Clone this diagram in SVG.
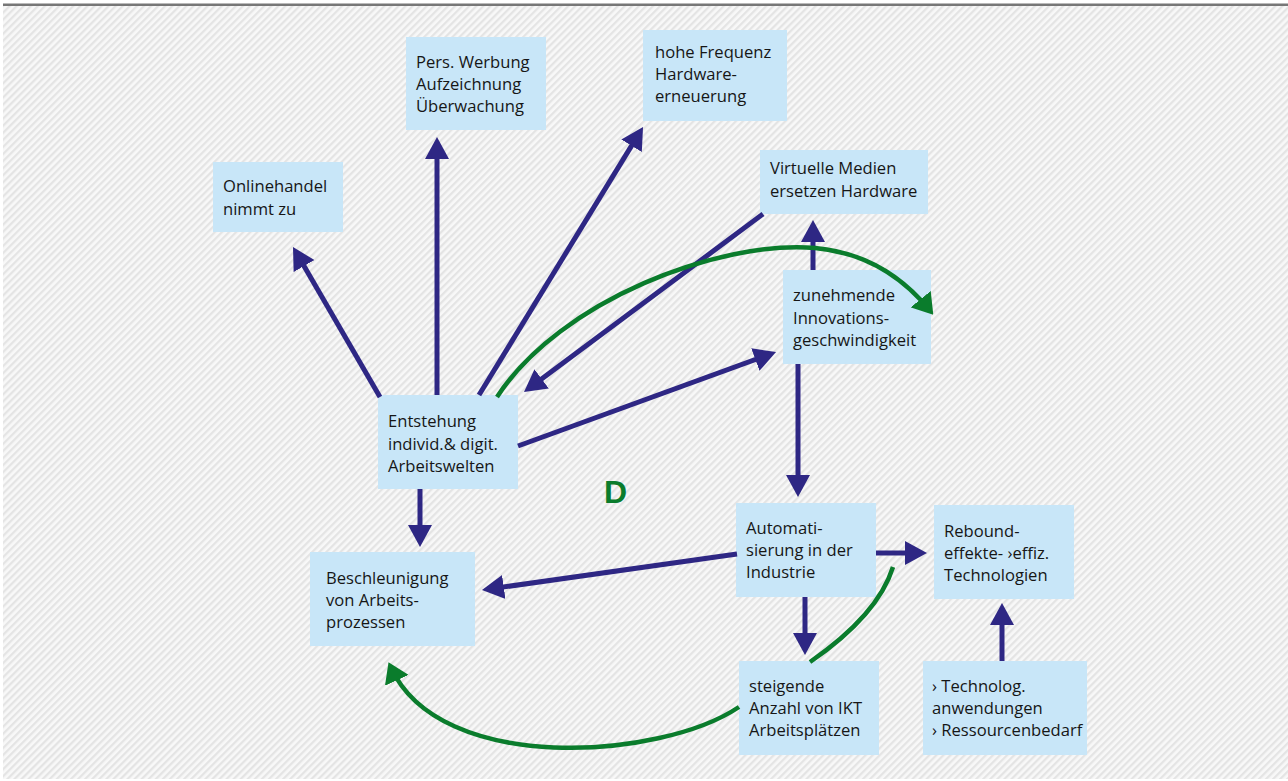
<svg xmlns="http://www.w3.org/2000/svg" width="1288" height="781" viewBox="0 0 1288 781">
<style>
.box{fill:#c8e6f8}
.t{font-family:"Open Sans","Noto Sans","Liberation Sans",sans-serif;font-size:16.6px;fill:#161616}
.nv{fill:none;stroke:#2e2784;stroke-width:5}
.gr{fill:none;stroke:#0a7c2c;stroke-width:4.5}
</style>
<defs>
<pattern id="hatch" patternUnits="userSpaceOnUse" width="5" height="5" patternTransform="rotate(45)">
<rect width="5" height="5" fill="#f8f8f8"/>
<rect width="2.3" height="5" fill="#e4e4e4"/>
</pattern>
<marker id="an" markerUnits="userSpaceOnUse" viewBox="0 0 22 24" markerWidth="22" markerHeight="24" refX="16" refY="12" orient="auto">
<path d="M0,0 L22,12 L0,24 z" fill="#2e2784"/>
</marker>
<marker id="ag" markerUnits="userSpaceOnUse" viewBox="0 0 20 26" markerWidth="20" markerHeight="26" refX="14" refY="13" orient="auto">
<path d="M0,0 L20,13 L0,26 z" fill="#0a7c2c"/>
</marker>
</defs>
<rect width="1288" height="781" fill="#ffffff"/>
<rect x="3" y="6" width="1285" height="773" fill="url(#hatch)"/>
<rect x="3" y="3.5" width="1285" height="2.5" fill="#777777"/>

<g id="n-online"><rect class="box" x="213" y="162" width="130" height="70"/><text class="t" x="223" y="192">Onlinehandel</text><text class="t" x="223" y="215">nimmt zu</text></g>
<g id="n-werbung"><rect class="box" x="406" y="37" width="140" height="93"/><text class="t" x="416" y="68">Pers. Werbung</text><text class="t" x="416" y="90">Aufzeichnung</text><text class="t" x="416" y="112">Überwachung</text></g>
<g id="n-frequenz"><rect class="box" x="643" y="30" width="144" height="91"/><text class="t" x="655" y="58">hohe Frequenz</text><text class="t" x="655" y="80">Hardware-</text><text class="t" x="655" y="102">erneuerung</text></g>
<g id="n-virtuell"><rect class="box" x="760" y="150" width="168" height="64"/><text class="t" x="770" y="174">Virtuelle Medien</text><text class="t" x="770" y="197">ersetzen Hardware</text></g>
<g id="n-innovation"><rect class="box" x="783" y="270" width="148" height="94"/><text class="t" x="793" y="301">zunehmende</text><text class="t" x="793" y="324">Innovations-</text><text class="t" x="793" y="346">geschwindigkeit</text></g>
<g id="n-entstehung"><rect class="box" x="378" y="395" width="140" height="94"/><text class="t" x="388" y="427">Entstehung</text><text class="t" x="388" y="450">individ.&amp; digit.</text><text class="t" x="388" y="472">Arbeitswelten</text></g>
<g id="n-beschleunigung"><rect class="box" x="310" y="552" width="165" height="94"/><text class="t" x="326" y="584">Beschleunigung</text><text class="t" x="326" y="606">von Arbeits-</text><text class="t" x="326" y="628">prozessen</text></g>
<g id="n-automatisierung"><rect class="box" x="736" y="503" width="140" height="94"/><text class="t" x="746" y="534">Automati-</text><text class="t" x="746" y="556">sierung in der</text><text class="t" x="746" y="578">Industrie</text></g>
<g id="n-rebound"><rect class="box" x="934" y="505" width="140" height="94"/><text class="t" x="944" y="537">Rebound-</text><text class="t" x="944" y="559">effekte- ›effiz.</text><text class="t" x="944" y="581">Technologien</text></g>
<g id="n-steigende"><rect class="box" x="739" y="661" width="140" height="94"/><text class="t" x="749" y="692">steigende</text><text class="t" x="749" y="714">Anzahl von IKT</text><text class="t" x="749" y="736">Arbeitsplätzen</text></g>
<g id="n-technolog"><rect class="box" x="923" y="661" width="164" height="94"/><text class="t" x="932" y="692">› Technolog.</text><text class="t" x="932" y="714">anwendungen</text><text class="t" x="932" y="736">› Ressourcenbedarf</text></g>
<g id="label-d"><text x="604" y="503" font-family="'Liberation Sans',sans-serif" font-weight="bold" font-size="32" fill="#0a7c2c">D</text></g>

<g id="connectors">
<path class="nv" d="M380,397 L296,252.2" marker-end="url(#an)"/>
<path class="nv" d="M437,395 L437,143" marker-end="url(#an)"/>
<path class="nv" d="M479,395 L639.9,132.1" marker-end="url(#an)"/>
<path class="nv" d="M763,214 L528.8,388.4" marker-end="url(#an)"/>
<path class="nv" d="M518,446 L770.4,354.1" marker-end="url(#an)"/>
<path class="nv" d="M813,270 L813,226" marker-end="url(#an)"/>
<path class="nv" d="M798,364 L798,491" marker-end="url(#an)"/>
<path class="nv" d="M420,489 L420,541" marker-end="url(#an)"/>
<path class="nv" d="M737,554 L487.9,589.2" marker-end="url(#an)"/>
<path class="nv" d="M876,553 L921,553" marker-end="url(#an)"/>
<path class="nv" d="M805,597 L805,649" marker-end="url(#an)"/>
<path class="nv" d="M1002,661 L1002,609" marker-end="url(#an)"/>
<path class="gr" d="M497,397 C560,300 720,240 815,248 C870,253 905,280 929.5,310" marker-end="url(#ag)"/>
<path class="gr" d="M810,662 Q878,615 893,567"/>
<path class="gr" d="M739,707 C660,760 440,775 391,667.6" marker-end="url(#ag)"/>
</g>
</svg>
